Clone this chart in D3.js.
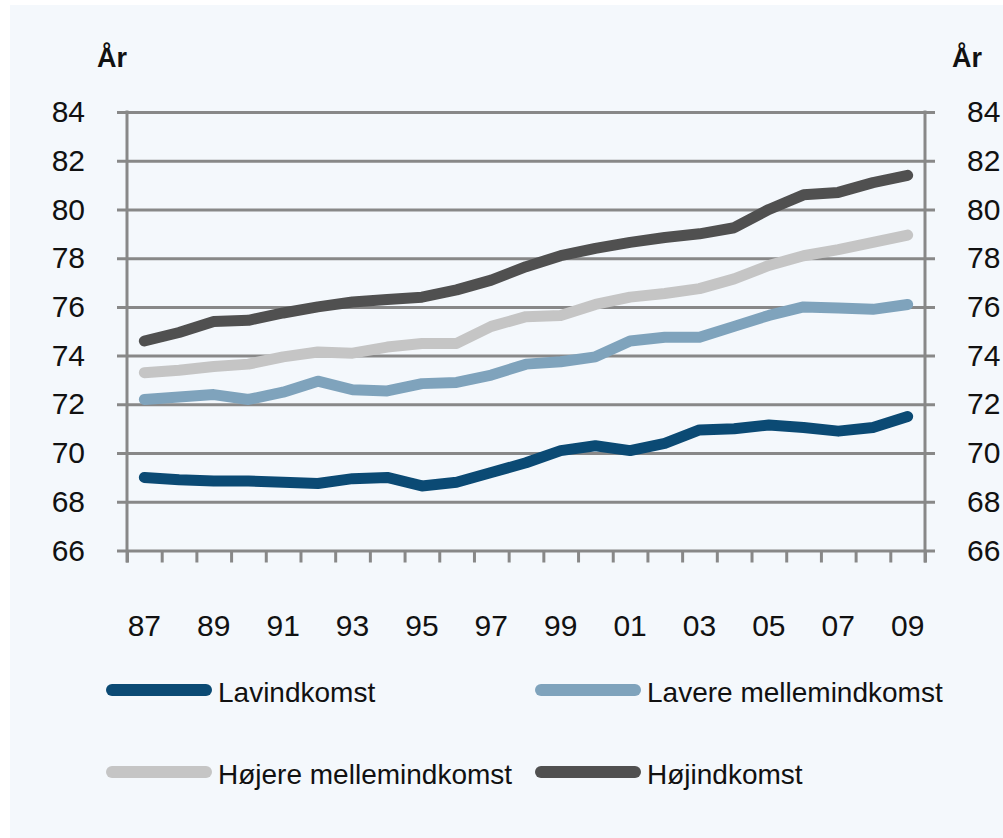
<!DOCTYPE html>
<html>
<head>
<meta charset="utf-8">
<script src="https://cdn.jsdelivr.net/npm/d3@7"></script>
<style>
  html, body { margin: 0; padding: 0; background: #ffffff; }
  svg { display: block; font-family: "Liberation Sans", Arial, sans-serif; }
</style>
</head>
<body>
<svg id="chart" width="1003" height="838"></svg>
<script>
// ---- data ----
const years = ["87","88","89","90","91","92","93","94","95","96","97","98","99","00","01","02","03","04","05","06","07","08","09"];
const yearLabels = ["87","89","91","93","95","97","99","01","03","05","07","09"];
const yTicks = [66,68,70,72,74,76,78,80,82,84];
const seriesNames = ["Lavindkomst","Lavere mellemindkomst","Højere mellemindkomst","Højindkomst"];
const lavindkomst = [69.0,68.9,68.85,68.85,68.8,68.75,68.95,69.0,68.65,68.8,69.2,69.6,70.1,70.3,70.1,70.4,70.95,71.0,71.15,71.05,70.9,71.05,71.5];
const laveremellem = [72.2,72.3,72.4,72.2,72.5,72.95,72.6,72.55,72.85,72.9,73.2,73.65,73.75,73.95,74.6,74.75,74.75,75.2,75.65,76.0,75.95,75.9,76.1];
const hojeremellem = [73.3,73.4,73.55,73.65,73.95,74.15,74.1,74.35,74.5,74.5,75.2,75.6,75.65,76.1,76.4,76.55,76.75,77.15,77.7,78.1,78.35,78.65,78.95];
const hojindkomst = [74.6,74.95,75.4,75.45,75.75,76.0,76.2,76.3,76.4,76.7,77.1,77.65,78.1,78.4,78.65,78.85,79.0,79.25,80.0,80.6,80.7,81.1,81.4];
const colors = ["#0b4a74","#7fa3bc","#c5c5c5","#505050"];

// ---- layout ----
const svg = d3.select("#chart");
const L = 127, R = 925, T = 112, B = 550.5;

svg.append("rect").attr("x",10).attr("y",5).attr("width",993).attr("height",833).attr("fill","#f4f8fc");

const x = d3.scaleBand().domain(years).range([L, R]).padding(0);
const xb = d3.scaleLinear().domain([0, years.length]).range([L, R]);
const y = d3.scaleLinear().domain([66, 84]).range([B, T]);

const gridColor = "#888888";

// gridlines + left labels
const gLeft = svg.append("g").attr("transform", `translate(${L-10},0)`)
  .call(d3.axisLeft(y).tickValues(yTicks).tickSize(-(R - L + 20)).tickPadding(32).tickFormat(d3.format("d")));
gLeft.select(".domain").remove();
gLeft.selectAll(".tick line").attr("stroke", gridColor).attr("stroke-width", 3);
gLeft.selectAll(".tick text").attr("font-size", 30).attr("fill", "#111").attr("font-family","Liberation Sans, Arial, sans-serif");

// right labels
const gRight = svg.append("g").attr("transform", `translate(${R+10},0)`)
  .call(d3.axisRight(y).tickValues(yTicks).tickSize(0).tickPadding(32).tickFormat(d3.format("d")));
gRight.select(".domain").remove();
gRight.selectAll(".tick text").attr("font-size", 30).attr("fill", "#111").attr("font-family","Liberation Sans, Arial, sans-serif");

// bottom tick marks at category boundaries
const gTicks = svg.append("g").attr("transform", `translate(0,${B})`)
  .call(d3.axisBottom(xb).tickValues(d3.range(0, years.length + 1)).tickSize(12).tickFormat(""));
gTicks.select(".domain").remove();
gTicks.selectAll(".tick line").attr("stroke", gridColor).attr("stroke-width", 3);

// bottom labels
const gBottom = svg.append("g").attr("transform", `translate(0,${B})`)
  .call(d3.axisBottom(x).tickValues(yearLabels).tickSize(0).tickPadding(64));
gBottom.select(".domain").remove();
gBottom.selectAll(".tick text").attr("font-size", 30).attr("fill", "#111").attr("font-family","Liberation Sans, Arial, sans-serif");

// vertical axis lines
svg.append("line").attr("x1", L).attr("x2", L).attr("y1", T - 1.5).attr("y2", B + 12).attr("stroke", gridColor).attr("stroke-width", 3);
svg.append("line").attr("x1", R).attr("x2", R).attr("y1", T - 1.5).attr("y2", B + 12).attr("stroke", gridColor).attr("stroke-width", 3);

// "År" labels
svg.append("text").attr("x", 97).attr("y", 67).attr("font-size", 27).attr("font-weight", "bold").attr("fill", "#111").text("År");
svg.append("text").attr("x", 952).attr("y", 67).attr("font-size", 27).attr("font-weight", "bold").attr("fill", "#111").text("År");

// lines
const allSeries = [lavindkomst, laveremellem, hojeremellem, hojindkomst];
const line = d3.line()
  .x((d, i) => x(years[i]) + x.bandwidth() / 2)
  .y(d => y(d))
  .curve(d3.curveLinear);

allSeries.forEach((s, k) => {
  svg.append("path").datum(s)
    .attr("d", line)
    .attr("fill", "none")
    .attr("stroke", colors[k])
    .attr("stroke-width", 11)
    .attr("stroke-linecap", "round")
    .attr("stroke-linejoin", "round");
});

// legend
const legendPos = [
  {lx: 112, ly: 690},
  {lx: 541, ly: 690},
  {lx: 112, ly: 772},
  {lx: 541, ly: 772}
];
seriesNames.forEach((name, k) => {
  const p = legendPos[k];
  svg.append("line").attr("x1", p.lx).attr("x2", p.lx + 94).attr("y1", p.ly).attr("y2", p.ly)
    .attr("stroke", colors[k]).attr("stroke-width", 12).attr("stroke-linecap", "round");
  svg.append("text").attr("x", p.lx + 106).attr("y", p.ly + 2).attr("dominant-baseline", "central")
    .attr("font-size", 28).attr("fill", "#111").text(name);
});
</script>
</body>
</html>
